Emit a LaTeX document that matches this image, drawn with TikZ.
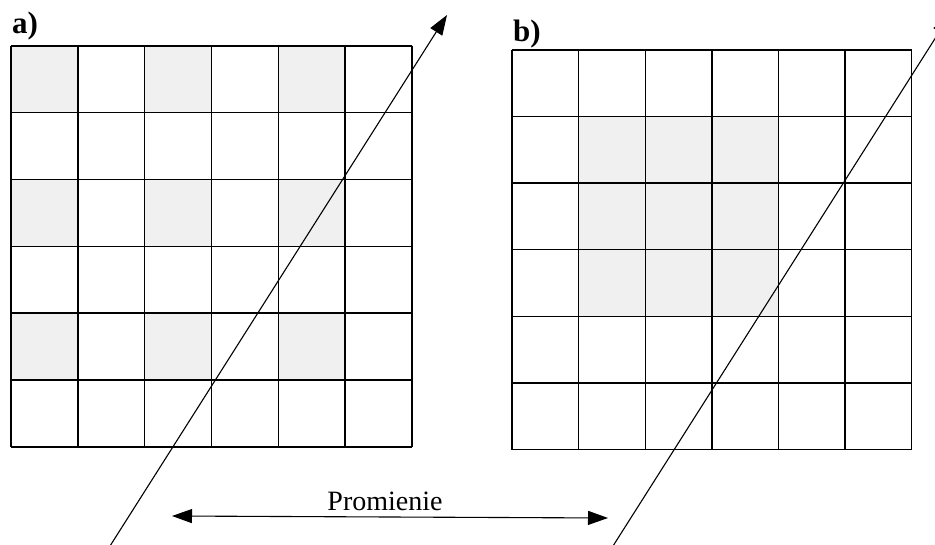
\documentclass[tikz,border=0pt]{standalone}
\usepackage{fontspec}
\setmainfont{Liberation Serif}
\usetikzlibrary{arrows.meta,positioning}

\begin{document}
\begin{tikzpicture}[
  x=1pt, y=-1pt,
  font=\fontsize{28}{32}\selectfont,
  cell/.style={fill=black!6},
  gridline/.style={line width=1.4pt},
  ray/.style={line width=1.1pt},
  tag/.style={font=\fontsize{31}{34}\selectfont\bfseries, anchor=base west, inner sep=0pt},
  >={Triangle[length=20pt,width=14pt]}
]
\path[use as bounding box, clip] (0,0) rectangle (935,545);

% panel a: checkerboard of shaded cells
\begin{scope}[shift={(11,46)}]
  \foreach \r in {0,2,4} \foreach \c in {0,2,4}
    \fill[cell] (\c*66.8,\r*66.8) rectangle ++(66.8,66.8);
  \foreach \i in {0,...,6} {
    \draw[gridline] (\i*66.8,0) -- (\i*66.8,400.8);
    \draw[gridline] (0,\i*66.8) -- (400.8,\i*66.8);
  }
\end{scope}
\node[tag] (taga) at (12,34) {a)};

% panel b: shaded 3x3 block
\begin{scope}[shift={(512,50)}]
  \foreach \r in {1,2,3} \foreach \c in {1,2,3}
    \fill[cell] (\c*66.6,\r*66.6) rectangle ++(66.6,66.6);
  \foreach \i in {0,...,6} {
    \draw[gridline] (\i*66.6,0) -- (\i*66.6,399.6);
    \draw[gridline] (0,\i*66.6) -- (399.6,\i*66.6);
  }
\end{scope}
\node[tag] (tagb) at (513,42) {b)};

% rays
\coordinate (raya0) at (110,546);
\coordinate (raya1) at (447,15);
\coordinate (rayb0) at (613,546);
\coordinate (rayb1) at (950,15);
\draw[ray,->] (raya0) -- (raya1);
\draw[ray,->] (rayb0) -- (rayb1);

% label between the rays
\node[anchor=base] (prom) at (385,510) {Promienie};
\coordinate (promL) at (172,516);
\coordinate (promR) at (608,518);
\draw[ray,<->] (promL) -- (promR);
\end{tikzpicture}
\end{document}
